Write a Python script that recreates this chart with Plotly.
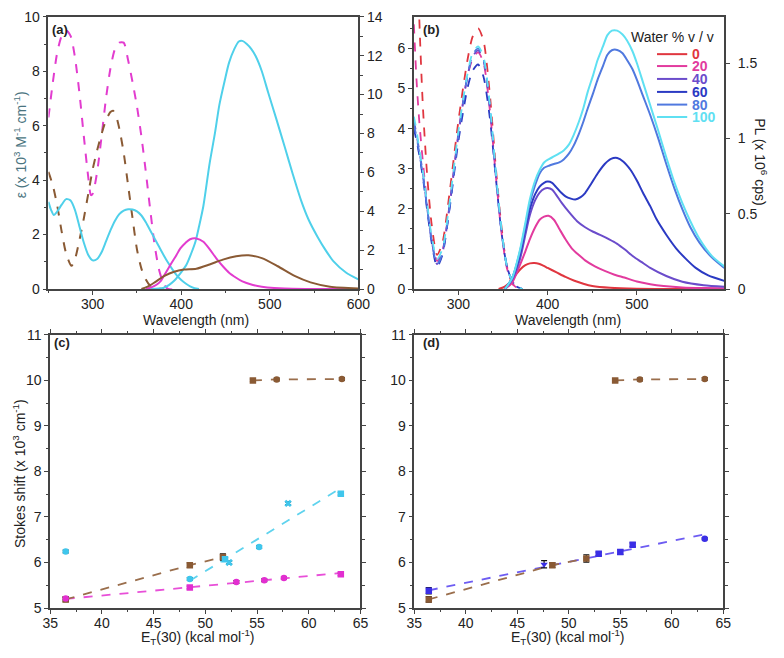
import plotly.graph_objects as go

W, H = 784, 658

# ---------------- panel (a) ----------------
wl_a_mag_abs = [250, 255, 260, 265, 270, 275, 280, 285, 290, 295, 298, 300, 305, 310, 315, 320, 325, 330,
                335, 340, 345, 350, 355, 360, 365, 370, 375, 380, 385, 400]
eps_a_mag_abs = [6.3, 7.6, 8.7, 9.3, 9.5, 9.3, 8.5, 7.2, 5.6, 4.1, 3.45, 3.5, 4.3, 5.6, 7.0, 8.1, 8.8, 9.05,
                 9.05, 8.4, 7.6, 6.7, 5.6, 4.3, 2.9, 1.6, 0.7, 0.2, 0, 0]

wl_a_brn_abs = [250, 255, 260, 265, 270, 276, 280, 285, 290, 295, 300, 305, 310, 315, 320, 323, 326, 330,
                335, 340, 345, 350, 355, 360, 365, 370, 380]
eps_a_brn_abs = [4.3, 3.8, 3.05, 2.1, 1.3, 0.85, 1.1, 1.8, 2.6, 3.5, 4.4, 5.1, 5.7, 6.2, 6.5, 6.55, 6.4, 5.9,
                 5.0, 3.8, 2.6, 1.45, 0.75, 0.35, 0.12, 0.03, 0]

wl_a_cyn_abs = [250, 253, 256, 260, 265, 270, 275, 280, 285, 290, 295, 300, 305, 310, 315, 320, 325, 330,
                335, 340, 345, 350, 355, 360, 365, 370, 375, 380, 385, 390, 395, 400, 405, 410, 415, 420]
eps_a_cyn_abs = [3.2, 2.9, 2.72, 2.85, 3.1, 3.3, 3.25, 2.9, 2.3, 1.7, 1.25, 1.05, 1.1, 1.35, 1.75, 2.15, 2.5,
                 2.75, 2.88, 2.93, 2.92, 2.85, 2.7, 2.45, 2.15, 1.85, 1.55, 1.25, 0.97, 0.72, 0.5, 0.33,
                 0.2, 0.1, 0.03, 0]

# emission, right axis
wl_a_cyn_em = [365, 375, 381, 386, 392, 399, 406, 411, 416, 420, 425, 432, 438, 443, 449, 454, 460, 465,
               469, 474, 479, 484, 491, 498, 507, 517, 526, 535, 544, 554, 563, 572, 586, 600]
pl_a_cyn_em = [0, 0.02, 0.08, 0.2, 0.42, 0.8, 1.26, 1.8, 2.43, 3.2, 4.27, 6.45, 8.0, 9.46, 10.7, 11.64,
               12.35, 12.73, 12.76, 12.6, 12.35, 11.98, 11.2, 10.13, 8.8, 7.29, 5.9, 4.6, 3.55, 2.68, 2.0,
               1.42, 0.85, 0.5]

wl_a_mag_em = [360, 366, 372, 377, 382, 388, 394, 399, 405, 410, 417, 425, 432, 440, 447, 454, 462, 469,
               480, 491, 505, 517, 540, 600]
pl_a_mag_em = [0, 0.08, 0.22, 0.42, 0.8, 1.26, 1.7, 2.09, 2.38, 2.56, 2.6, 2.43, 2.05, 1.55, 1.17, 0.84,
               0.58, 0.39, 0.22, 0.12, 0.05, 0.02, 0.005, 0]

wl_a_brn_em = [355, 362, 370, 381, 392, 403, 417, 432, 447, 462, 476, 491, 509, 528, 546, 568, 600]
pl_a_brn_em = [0, 0.12, 0.34, 0.67, 0.89, 1.0, 1.04, 1.26, 1.51, 1.68, 1.73, 1.59, 1.17, 0.67, 0.34,
               0.12, 0.03]

# ---------------- panel (b) ----------------
water = ["0", "20", "40", "60", "80", "100"]
wl_b_abs = [250, 253, 256, 260, 265, 270, 276, 282, 290, 300, 310, 316, 322, 328, 335, 342, 348, 354,
            360, 366, 372]
abs_b = [
    [13.0, 9.5, 6.8, 4.6, 2.8, 1.6, 0.85, 1.15, 2.4, 4.2, 5.7, 6.3, 6.5, 6.2, 4.9, 3.0, 1.6, 0.6, 0.15, 0.02, 0],
    [6.6, 5.2, 4.2, 3.2, 2.1, 1.25, 0.7, 0.95, 2.1, 3.9, 5.3, 5.75, 5.9, 5.65, 4.5, 2.8, 1.45, 0.55, 0.15, 0.02, 0],
    [4.2, 3.85, 3.45, 2.9, 2.0, 1.2, 0.62, 0.9, 2.05, 3.85, 5.3, 5.8, 5.95, 5.7, 4.55, 2.8, 1.5, 0.6, 0.2, 0.05, 0],
    [4.0, 3.7, 3.35, 2.8, 1.95, 1.15, 0.55, 0.85, 2.0, 3.7, 5.0, 5.45, 5.6, 5.3, 4.3, 2.75, 1.45, 0.6, 0.2, 0.05, 0],
    [4.1, 3.8, 3.4, 2.85, 2.0, 1.2, 0.6, 0.9, 2.05, 3.85, 5.3, 5.85, 6.0, 5.75, 4.6, 2.85, 1.5, 0.6, 0.2, 0.05, 0],
    [4.3, 3.95, 3.5, 2.95, 2.1, 1.3, 0.75, 1.0, 2.15, 3.95, 5.35, 5.9, 6.05, 5.8, 4.65, 2.9, 1.55, 0.6, 0.2, 0.05, 0],
]

wl_b_em0 = [345, 350, 355, 360, 365, 370, 375, 380, 385, 390, 395, 400, 410, 420, 430, 440, 450, 470, 500, 598]
pl_b_em0 = [0, 0.01, 0.03, 0.06, 0.1, 0.135, 0.158, 0.17, 0.172, 0.168, 0.155, 0.14, 0.11, 0.08, 0.055,
            0.035, 0.02, 0.008, 0.002, 0]
wl_b_em20 = [352, 360, 369, 375, 380, 386, 391, 396, 401, 407, 413, 420, 427, 435, 442, 453, 464, 475, 486,
             500, 515, 530, 551, 575, 598]
pl_b_em20 = [0, 0.04, 0.16, 0.25, 0.33, 0.41, 0.46, 0.48, 0.486, 0.46, 0.4, 0.33, 0.27, 0.225, 0.19, 0.15,
             0.12, 0.095, 0.076, 0.05, 0.032, 0.02, 0.01, 0.006, 0.005]
wl_b_em40 = [352, 360, 369, 375, 380, 386, 391, 396, 400, 405, 409, 416, 424, 433, 442, 451, 460, 469, 478,
             487, 496, 505, 515, 533, 551, 575, 598]
pl_b_em40 = [0, 0.06, 0.2, 0.36, 0.49, 0.59, 0.64, 0.665, 0.67, 0.66, 0.63, 0.57, 0.51, 0.45, 0.41, 0.38,
             0.356, 0.33, 0.3, 0.26, 0.216, 0.18, 0.14, 0.086, 0.048, 0.025, 0.015]
wl_b_em60 = [352, 360, 369, 375, 380, 386, 391, 396, 400, 405, 409, 415, 420, 426, 431, 437, 442, 449, 456,
             464, 471, 478, 485, 493, 500, 507, 515, 522, 533, 544, 555, 566, 580, 598]
pl_b_em60 = [0, 0.07, 0.23, 0.4, 0.53, 0.63, 0.68, 0.705, 0.713, 0.705, 0.68, 0.64, 0.615, 0.6, 0.594,
             0.61, 0.637, 0.7, 0.767, 0.83, 0.864, 0.87, 0.845, 0.79, 0.72, 0.637, 0.55, 0.464, 0.36, 0.27,
             0.2, 0.14, 0.09, 0.054]
wl_b_em_hi = [352, 360, 369, 375, 380, 386, 391, 396, 402, 407, 413, 418, 424, 429, 435, 440, 445, 451, 456,
              462, 467, 472, 478, 484, 489, 495, 500, 507, 515, 524, 533, 542, 551, 560, 570, 584, 598]
pl_b_em80 = [0, 0.07, 0.25, 0.42, 0.57, 0.69, 0.767, 0.805, 0.82, 0.83, 0.84, 0.86, 0.9, 0.95, 1.03, 1.11,
             1.2, 1.3, 1.39, 1.48, 1.555, 1.585, 1.587, 1.565, 1.52, 1.46, 1.39, 1.28, 1.155, 1.0, 0.83,
             0.67, 0.53, 0.41, 0.31, 0.21, 0.14]
pl_b_em100 = [0, 0.07, 0.26, 0.44, 0.594, 0.72, 0.79, 0.84, 0.864, 0.88, 0.9, 0.92, 0.96, 1.02, 1.11, 1.2,
              1.31, 1.42, 1.52, 1.61, 1.685, 1.715, 1.715, 1.69, 1.65, 1.58, 1.5, 1.37, 1.22, 1.05, 0.875,
              0.71, 0.57, 0.45, 0.335, 0.22, 0.15]

# ---------------- panel (c) ----------------
et_c_brn_lo = [36.5, 48.5, 51.7]
ss_c_brn_lo = [5.19, 5.94, 6.12]
err_c_brn_lo = [0.05, 0.05, 0.07]
et_c_brn_hi = [54.6, 56.9, 63.2]
ss_c_brn_hi = [10.0, 10.02, 10.03]
et_c_cyn = [36.5, 48.5, 51.9, 52.3, 55.2, 58.0, 63.1]
ss_c_cyn = [6.24, 5.64, 6.07, 6.0, 6.34, 7.3, 7.51]
fit_c_cyn_x = [48.5, 63.0]
fit_c_cyn_y = [5.6, 7.62]
et_c_mag = [36.5, 48.5, 53.0, 55.7, 57.6, 63.1]
ss_c_mag = [5.21, 5.45, 5.57, 5.61, 5.66, 5.74]
fit_c_mag_x = [36.5, 63.1]
fit_c_mag_y = [5.2, 5.77]

# ---------------- panel (d) ----------------
et_d_brn_lo = [36.4, 48.4, 51.7]
ss_d_brn_lo = [5.19, 5.94, 6.09]
err_d_brn_lo = [0.06, 0.05, 0.08]
et_d_brn_hi = [54.5, 56.9, 63.2]
ss_d_brn_hi = [10.0, 10.02, 10.03]
et_d_blu = [36.4, 47.6, 52.9, 55.0, 56.2, 63.2]
ss_d_blu = [5.38, 5.96, 6.19, 6.23, 6.39, 6.52]
err_d_blu = [0.07, 0.08, 0.04, 0.05, 0.04, 0.02]
fit_d_blu_x = [36.4, 63.2]
fit_d_blu_y = [5.39, 6.62]

MAG = "#e23ccf"
BRN = "#8a5a34"
CYN = "#4fd0ea"
b_cols = ["#e0363f", "#e23b9e", "#6b4ccb", "#2b3ac3", "#5079df", "#5fe0f2"]
FONT = "Liberation Sans, Arial, sans-serif"
AX = "#444444"

fig = go.Figure()


def line(x, y, col, xa, ya, dash="solid", width=2):
    fig.add_trace(go.Scatter(x=x, y=y, mode="lines", xaxis=xa, yaxis=ya,
                             line=dict(color=col, width=width, dash=dash, shape="spline", smoothing=0.7),
                             showlegend=False, hoverinfo="skip"))


# (a)
line(wl_a_mag_abs, eps_a_mag_abs, MAG, "x", "y", dash="dash")
line(wl_a_brn_abs, eps_a_brn_abs, BRN, "x", "y", dash="dash")
line(wl_a_cyn_abs, eps_a_cyn_abs, CYN, "x", "y")
line(wl_a_cyn_em, pl_a_cyn_em, CYN, "x", "y2")
line(wl_a_mag_em, pl_a_mag_em, MAG, "x", "y2")
line(wl_a_brn_em, pl_a_brn_em, BRN, "x", "y2")

# (b)
for vals, col in zip(abs_b, b_cols):
    line(wl_b_abs, vals, col, "x2", "y3", dash="dash", width=1.8)
em_b = [(wl_b_em0, pl_b_em0), (wl_b_em20, pl_b_em20), (wl_b_em40, pl_b_em40),
        (wl_b_em60, pl_b_em60), (wl_b_em_hi, pl_b_em80), (wl_b_em_hi, pl_b_em100)]
for (wx, wy), col in zip(em_b, b_cols):
    line(wx, wy, col, "x2", "y4")


def pts(x, y, col, xa, ya, symbols, err=None, dash=None, lcol=None):
    fig.add_trace(go.Scatter(
        x=x, y=y, xaxis=xa, yaxis=ya, mode="markers" if dash is None else "lines+markers",
        marker=dict(color=col, size=6.5, symbol=symbols),
        line=dict(color=lcol or col, width=1.8, dash=dash or "solid"),
        error_y=dict(type="data", array=err or [0.03] * len(x), color="#111", thickness=1.2, width=3),
        showlegend=False, hoverinfo="skip"))


def fit(x, y, col, xa, ya):
    fig.add_trace(go.Scatter(x=x, y=y, xaxis=xa, yaxis=ya, mode="lines",
                             line=dict(color=col, width=1.8, dash="dash"),
                             showlegend=False, hoverinfo="skip"))


# (c)
fit(fit_c_cyn_x, fit_c_cyn_y, "#5fd3ee", "x3", "y5")
fit(fit_c_mag_x, fit_c_mag_y, "#e84fd8", "x3", "y5")
pts(et_c_brn_lo, ss_c_brn_lo, BRN, "x3", "y5", ["square"] * 3, err_c_brn_lo, dash="dash", lcol="#9a6e4c")
pts(et_c_brn_hi, ss_c_brn_hi, BRN, "x3", "y5", ["square", "circle", "circle"], dash="dash", lcol="#9a6e4c")
pts(et_c_cyn, ss_c_cyn, "#3fc6ec", "x3", "y5",
    ["circle", "circle", "square", "x", "circle", "x", "square"])
pts(et_c_mag, ss_c_mag, "#e22ed0", "x3", "y5",
    ["circle", "square", "circle", "circle", "circle", "square"])

# (d)
fit(fit_d_blu_x, fit_d_blu_y, "#6d5cf2", "x4", "y6")
pts(et_d_brn_lo, ss_d_brn_lo, BRN, "x4", "y6", ["square"] * 3, err_d_brn_lo, dash="dash", lcol="#9a6e4c")
pts(et_d_brn_hi, ss_d_brn_hi, BRN, "x4", "y6", ["square", "circle", "circle"], dash="dash", lcol="#9a6e4c")
pts(et_d_blu, ss_d_blu, "#3a2ee6", "x4", "y6",
    ["square", "triangle-down", "square", "square", "square", "circle"], err_d_blu)


def px_x(p):
    return p / W


def px_y(p):
    return 1 - p / H


tickfont = dict(family=FONT, size=14, color="#222")
base = dict(showline=True, linecolor=AX, linewidth=1.5, ticks="outside", ticklen=4, tickwidth=1.3,
            tickcolor=AX, tickfont=tickfont, showgrid=False, zeroline=False)
xbase = dict(base, ticklabelstandoff=-3)

dom_a_x = [px_x(41.5), px_x(359.5)]
dom_b_x = [px_x(416.5), px_x(735)]
dom_c_x = [px_x(43.3), px_x(361.7)]
dom_d_x = [px_x(417), px_x(734)]
dom_top = [px_y(288), px_y(9)]
dom_bot = [px_y(615), px_y(335)]


def minor(d):
    return dict(dtick=d, ticklen=2.5, ticks="outside", tickcolor=AX)


fig.update_layout(
    width=W, height=H, margin=dict(l=0, r=0, t=0, b=0),
    paper_bgcolor="white", plot_bgcolor="white", font=dict(family=FONT, color="#222"),
    xaxis=dict(xbase, domain=dom_a_x, anchor="y", range=[250, 600], dtick=100, tick0=0,
               mirror=True, minor=minor(50)),
    yaxis=dict(base, domain=dom_top, anchor="x", range=[0, 10], dtick=2, minor=minor(1)),
    yaxis2=dict(base, overlaying="y", side="right", anchor="x", range=[0, 14], dtick=2, minor=minor(1)),
    xaxis2=dict(xbase, domain=dom_b_x, anchor="y3", range=[250, 598], dtick=100, tick0=0,
                mirror=True, minor=minor(50)),
    yaxis3=dict(base, domain=dom_top, anchor="x2", range=[0, 6.79], dtick=1, minor=minor(0.5)),
    yaxis4=dict(base, overlaying="y3", side="right", anchor="x2", range=[0, 1.807], dtick=0.5,
                tickformat="~g", ticklabelstandoff=5),
    xaxis3=dict(xbase, domain=dom_c_x, anchor="y5", range=[35, 65], dtick=5, mirror="ticks",
                minor=minor(2.5)),
    yaxis5=dict(base, domain=dom_bot, anchor="x3", range=[5, 11], dtick=1, mirror="ticks",
                minor=minor(0.5)),
    xaxis4=dict(xbase, domain=dom_d_x, anchor="y6", range=[35, 65], dtick=5, mirror="ticks",
                minor=minor(2.5)),
    yaxis6=dict(base, domain=dom_bot, anchor="x4", range=[5, 11], dtick=1, mirror="ticks",
                minor=minor(0.5)),
)

ann = []


def text(x, y, s, size=14, color="#222", angle=0, xanchor="center", bold=False):
    if bold:
        s = "<b>" + s + "</b>"
    ann.append(dict(x=px_x(x), y=px_y(y), xref="paper", yref="paper", text=s, showarrow=False,
                    font=dict(family=FONT, size=size, color=color), textangle=angle,
                    xanchor=xanchor, yanchor="middle"))


text(193, 320, "Wavelength (nm)")
text(575, 320, "Wavelength (nm)")
text(195, 645, "E<sub>T</sub>(30) (kcal mol<sup>-1</sup>)")
text(575, 645, "E<sub>T</sub>(30) (kcal mol<sup>-1</sup>)")
text(12, 140, "ε (x 10<sup>3</sup> M<sup>-1</sup> cm<sup>-1</sup>)", color="#4a7480", angle=-90)
text(12, 477, "Stokes shift (x 10<sup>3</sup> cm<sup>-1</sup>)", angle=-90)
text(784, 157, "PL (x 10<sup>6</sup> cps)", angle=90, xanchor="right")
text(43, 22, "(a)", size=13, xanchor="left", bold=True)
text(424, 22, "(b)", size=13, xanchor="left", bold=True)
text(45, 343, "(c)", size=13, xanchor="left", bold=True)
text(424, 343, "(d)", size=13, xanchor="left", bold=True)

# legend of panel (b)
text(727, 30, "Water % v / v", size=14, xanchor="right")
leg_y = [47.3, 59.5, 72.7, 86, 99, 111.7]
shapes = []
for lab, col, yy in zip(water, b_cols, leg_y):
    shapes.append(dict(type="line", xref="paper", yref="paper", x0=px_x(666), x1=px_x(697),
                       y0=px_y(yy), y1=px_y(yy), line=dict(color=col, width=2)))
    text(700, yy, lab, size=14, color=col, xanchor="left", bold=True)

fig.update_layout(annotations=ann, shapes=shapes)
fig.write_html("out.html", config={"displayModeBar": False},
               post_script="document.body.style.margin='0';")
